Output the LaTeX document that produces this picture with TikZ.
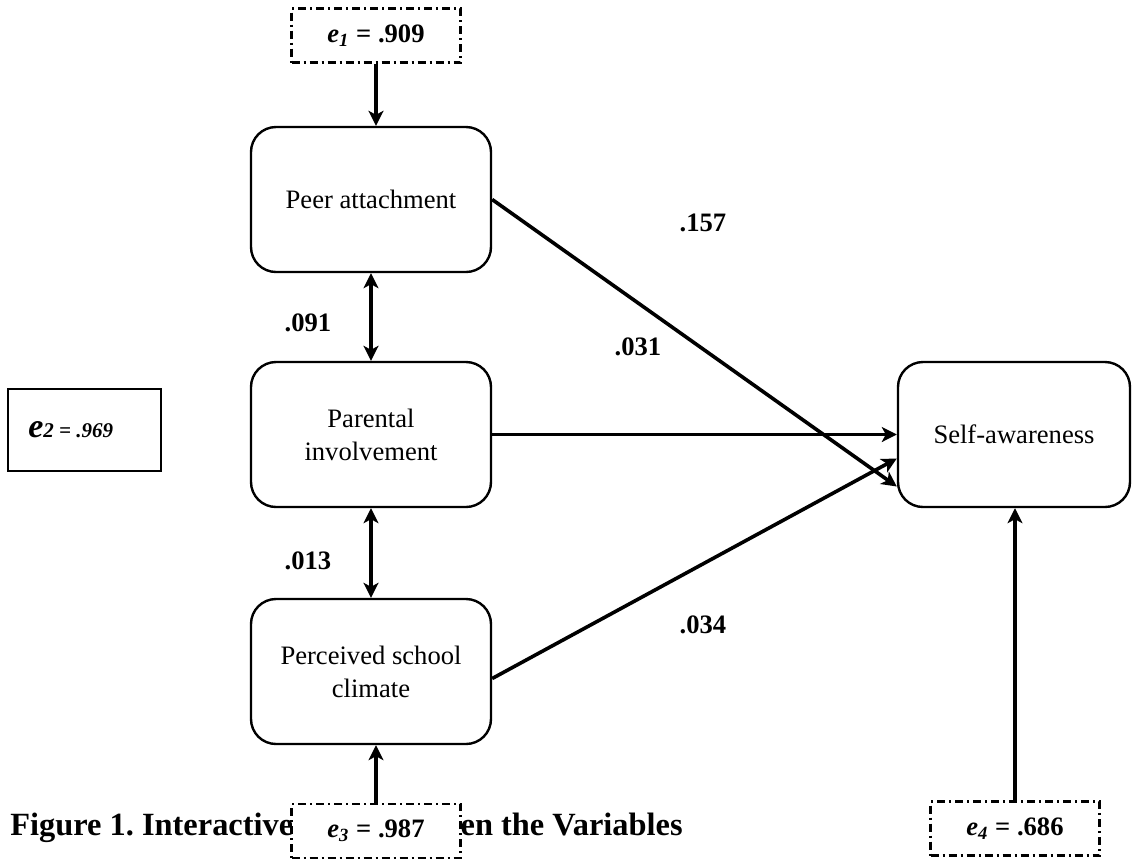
\documentclass[tikz,border=0pt]{standalone}
\usepackage{fontspec}
\setmainfont{Liberation Serif}
\usetikzlibrary{arrows.meta}
\frenchspacing

\begin{document}
\begin{tikzpicture}[x=0.5pt, y=-0.5pt,
  every node/.style={font=\fontsize{13.3}{16.5}\selectfont},
  var/.style={draw, line width=1.2pt, rounded corners=12.5pt, minimum width=120pt,
    minimum height=72.5pt, align=center, inner sep=0pt},
  errbox/.style={draw, line width=1.1pt, dash pattern=on 4pt off 2pt on 1pt off 2pt,
    fill=white, minimum width=84.5pt, minimum height=27pt, inner sep=0pt},
  coef/.style={font=\fontsize{13.3}{16}\selectfont\bfseries},
  arr/.style={line width=1.8pt, -{Stealth[length=7.5pt,width=7.5pt,inset=2pt]}},
  darr/.style={line width=1.8pt, {Stealth[length=7.5pt,width=7.5pt,inset=2pt]}-{Stealth[length=7.5pt,width=7.5pt,inset=2pt]}}]
  \useasboundingbox (0,0) rectangle (1132,859);

  % variables
  \node[var] (peer) at (371,199.5) {Peer attachment};
  \node[var] (parent) at (371,434.5) {Parental\\involvement};
  \node[var] (climate) at (371,671.5) {Perceived school\\climate};
  \node[var, minimum width=116pt] (self) at (1014,434.5) {Self-awareness};

  % caption (partly hidden under e3)
  \node[anchor=base west, font=\fontsize{16.2}{18}\selectfont\bfseries, inner sep=0pt]
    (caption) at (10,835) {Figure 1. Interactive Link Between the Variables};

  % error terms
  \node[errbox] (e1) at (376,35.5) {\textbf{\textit{e}\textsubscript{\textit{1}} = .909}};
  \node[draw, line width=1.2pt, minimum width=76.5pt, minimum height=41pt, inner sep=0pt]
    (e2) at (84.5,430) {};
  \node[anchor=west, inner sep=0pt, font=\bfseries\itshape] (e2txt) at (28,430)
    {{\fontsize{17}{17}\selectfont e}{\fontsize{10.5}{12}\selectfont 2 = .969}};
  \node[errbox] (e3) at (376,831) {\textbf{\textit{e}\textsubscript{\textit{3}} = .987}};
  \node[errbox] (e4) at (1015,828.5) {\textbf{\textit{e}\textsubscript{\textit{4}} = .686}};

  % paths
  \draw[arr] (e1.south) -- (e1.south |- peer.north);
  \draw[arr] (e3.north) -- (e3.north |- climate.south);
  \draw[arr] (e4.north) -- (e4.north |- self.south);
  \draw[darr] (peer.south) -- (parent.north);
  \draw[darr] (parent.south) -- (climate.north);
  \draw[arr] (peer.east) -- ([yshift=-26pt]self.west);
  \draw[arr] (parent.east) -- (self.west);
  \draw[arr] ([yshift=-3.5pt]climate.east) -- ([yshift=-12pt]self.west);

  % coefficients
  \node[coef] (c157) at (703,223) {.157};
  \node[coef] (c031) at (638,347) {.031};
  \node[coef] (c091) at (308,323) {.091};
  \node[coef] (c013) at (308,561) {.013};
  \node[coef] (c034) at (703,625) {.034};
\end{tikzpicture}
\end{document}
